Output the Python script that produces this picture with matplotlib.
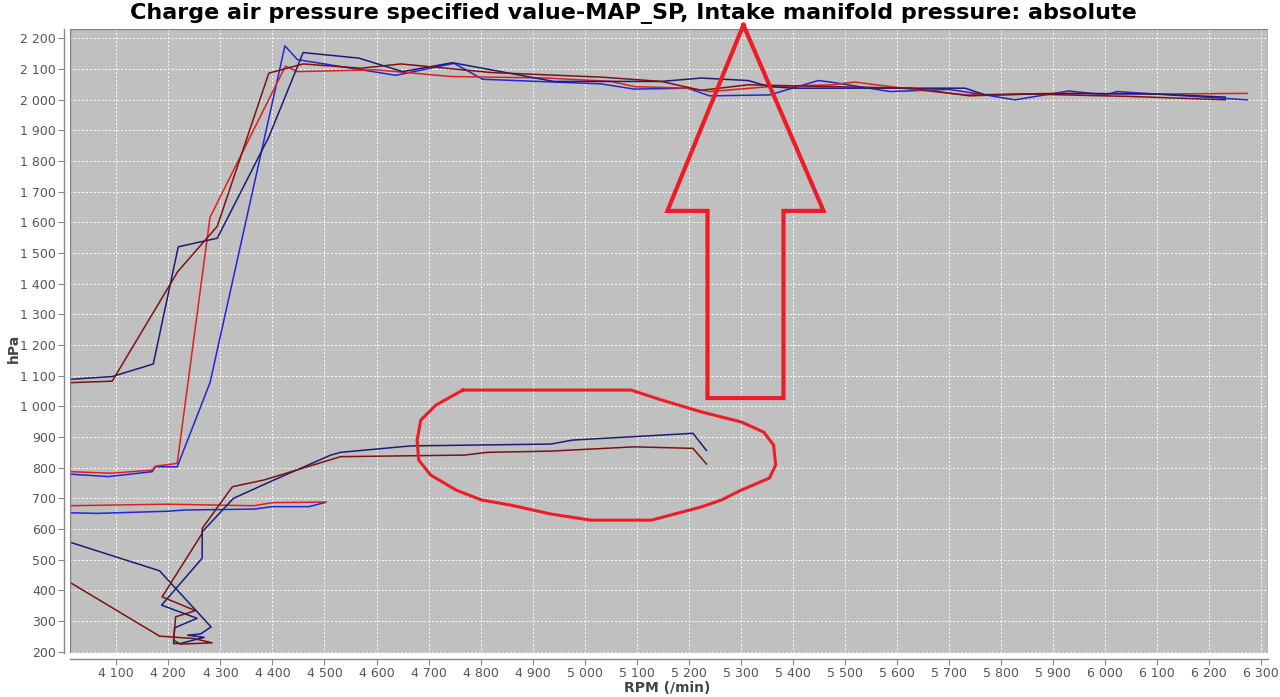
import numpy as np
import matplotlib
matplotlib.use("Agg")
import matplotlib.pyplot as plt
from matplotlib.ticker import FuncFormatter, MultipleLocator
from matplotlib.patches import Rectangle

DPI = 100
FIGSIZE = (12.8, 6.97)
X_RANGE = (4011, 6313)
Y_RANGE = (195, 2229)

TITLE = "Charge air pressure specified value-MAP_SP, Intake manifold pressure: absolute"
X_LABEL = "RPM (/min)"
Y_LABEL = "hPa"

# bright blue (log 1, specified)
blue_low_rpm = [4011, 4063, 4198, 4230, 4364, 4400, 4470, 4502]
blue_low_hpa = [653, 651, 658, 662, 665, 673, 673, 687]
blue_up_rpm = [4011, 4085, 4169, 4175, 4217, 4280, 4424, 4448, 4637, 4749, 4804, 5032, 5095,
               5198, 5240, 5355, 5449, 5480, 5587, 5700, 5770, 5827, 5930, 6001, 6023, 6273]
blue_up_hpa = [779, 771, 787, 803, 803, 1077, 2175, 2130, 2079, 2118, 2066, 2051, 2034,
               2037, 2012, 2015, 2062, 2055, 2026, 2033, 2015, 1999, 2028, 2015, 2026, 1999]

# bright red (log 1, actual)
red_low_rpm = [4011, 4198, 4364, 4400, 4502]
red_low_hpa = [676, 681, 676, 686, 688]
red_up_rpm = [4011, 4090, 4169, 4175, 4217, 4280, 4425, 4448, 4599, 4743, 4928, 5051, 5096,
              5198, 5240, 5355, 5475, 5519, 5620, 5731, 5900, 6100, 6273]
red_up_hpa = [787, 782, 792, 805, 814, 1616, 2109, 2091, 2097, 2075, 2070, 2059, 2042,
              2037, 2026, 2042, 2048, 2057, 2035, 2015, 2020, 2018, 2020]

# navy (log 2, specified)
navy_low_rpm = [4011, 4183, 4282, 4262, 4237, 4269, 4223, 4210, 4212, 4255, 4187, 4265, 4265,
                4325, 4403, 4512, 4531, 4666, 4935, 4977, 5208, 5234]
navy_low_hpa = [557, 464, 281, 258, 254, 247, 227, 227, 278, 309, 352, 505, 591,
                700, 760, 841, 850, 871, 877, 890, 912, 856]
navy_up_rpm = [4011, 4092, 4171, 4219, 4294, 4393, 4459, 4566, 4650, 4746, 4941, 5147, 5224,
               5314, 5355, 5401, 5475, 5632, 5731, 5770, 5950, 6100, 6231]
navy_up_hpa = [1088, 1097, 1138, 1520, 1548, 1878, 2153, 2135, 2091, 2120, 2059, 2059, 2070,
               2062, 2042, 2037, 2037, 2037, 2037, 2015, 2020, 2018, 2008]

# maroon (log 2, actual)
maroon_low_rpm = [4011, 4183, 4250, 4284, 4223, 4210, 4214, 4252, 4188, 4265, 4265, 4323, 4384,
                  4531, 4769, 4813, 4935, 5096, 5208, 5234]
maroon_low_hpa = [426, 251, 243, 229, 225, 238, 314, 334, 379, 586, 602, 738, 760,
                  836, 841, 850, 854, 868, 863, 812]
maroon_up_rpm = [4011, 4092, 4218, 4294, 4393, 4459, 4570, 4647, 4820, 5032, 5147, 5224, 5314,
                 5475, 5628, 5740, 5850, 6050, 6231]
maroon_up_hpa = [1077, 1082, 1439, 1587, 2086, 2116, 2102, 2116, 2088, 2073, 2059, 2030, 2048,
                 2042, 2037, 2012, 2018, 2010, 1999]

# hand drawn red marks on the screenshot
arrow_rpm = [5305, 5459, 5382, 5382, 5236, 5236, 5159, 5305]
arrow_hpa = [2243, 1637, 1637, 1027, 1027, 1637, 1637, 2243]
loop_rpm = [4766, 5089, 5147, 5224, 5301, 5344, 5363, 5367, 5355, 5301, 5263, 5224, 5166, 5128,
            5012, 4935, 4858, 4801, 4753, 4704, 4681, 4678, 4685, 4714, 4766]
loop_hpa = [1053, 1053, 1021, 982, 949, 916, 874, 809, 766, 727, 695, 672, 646, 629,
            629, 649, 678, 695, 727, 776, 825, 890, 955, 1004, 1053]

BLUE = "#2424d8"
NAVY = "#1c1c78"
RED = "#dc2020"
MAROON = "#7c1212"
MARK_RED = "#ee1c24"


def thousands(v, _pos):
    return f"{int(round(v)):,}".replace(",", " ")


def style_axes(ax):
    ax.set_facecolor("#c0c0c0")
    ax.set_xlim(*X_RANGE)
    ax.set_ylim(*Y_RANGE)
    ax.xaxis.set_major_locator(MultipleLocator(100))
    ax.yaxis.set_major_locator(MultipleLocator(100))
    ax.xaxis.set_major_formatter(FuncFormatter(thousands))
    ax.yaxis.set_major_formatter(FuncFormatter(thousands))
    ax.grid(True, color="white", linestyle=(0, (2, 2)), linewidth=0.7)
    ax.set_axisbelow(True)
    for side in ("top", "right"):
        ax.spines[side].set_visible(False)
    for side in ("left", "bottom"):
        ax.spines[side].set_position(("outward", 4))
        ax.spines[side].set_color("#888888")
        ax.spines[side].set_linewidth(1.0)
    ax.add_patch(Rectangle((0, 0), 1, 1, transform=ax.transAxes, fill=False,
                           edgecolor="#808080", linewidth=1.0, zorder=5))
    ax.tick_params(axis="both", direction="out", length=4, width=0.8, color="#888888",
                   labelsize=9, labelcolor="#555555", pad=2)


fig = plt.figure(figsize=FIGSIZE, dpi=DPI)
ax = fig.add_axes([0.0547, 0.0627, 0.9359, 0.8953])
style_axes(ax)

lw = 1.1
ax.plot(blue_low_rpm, blue_low_hpa, color=BLUE, lw=lw)
ax.plot(blue_up_rpm, blue_up_hpa, color=BLUE, lw=lw)
ax.plot(red_low_rpm, red_low_hpa, color=RED, lw=lw)
ax.plot(red_up_rpm, red_up_hpa, color=RED, lw=lw)
ax.plot(navy_low_rpm, navy_low_hpa, color=NAVY, lw=lw)
ax.plot(navy_up_rpm, navy_up_hpa, color=NAVY, lw=lw)
ax.plot(maroon_low_rpm, maroon_low_hpa, color=MAROON, lw=lw)
ax.plot(maroon_up_rpm, maroon_up_hpa, color=MAROON, lw=lw)

ax.plot(arrow_rpm, arrow_hpa, color=MARK_RED, lw=3.0, clip_on=False, zorder=6,
        solid_joinstyle="miter")
ax.plot(loop_rpm, loop_hpa, color=MARK_RED, lw=2.2, zorder=6)

fig.text(0.495, 0.996, TITLE, ha="center", va="top", fontsize=16, fontweight="bold")
fig.text(0.011, 0.5, Y_LABEL, ha="center", va="center", rotation=90, fontsize=10,
         fontweight="bold", color="#444444")
fig.text(0.521, 0.013, X_LABEL, ha="center", va="center", fontsize=10,
         fontweight="bold", color="#444444")

fig.savefig("out.png", dpi=DPI)
plt.close(fig)
